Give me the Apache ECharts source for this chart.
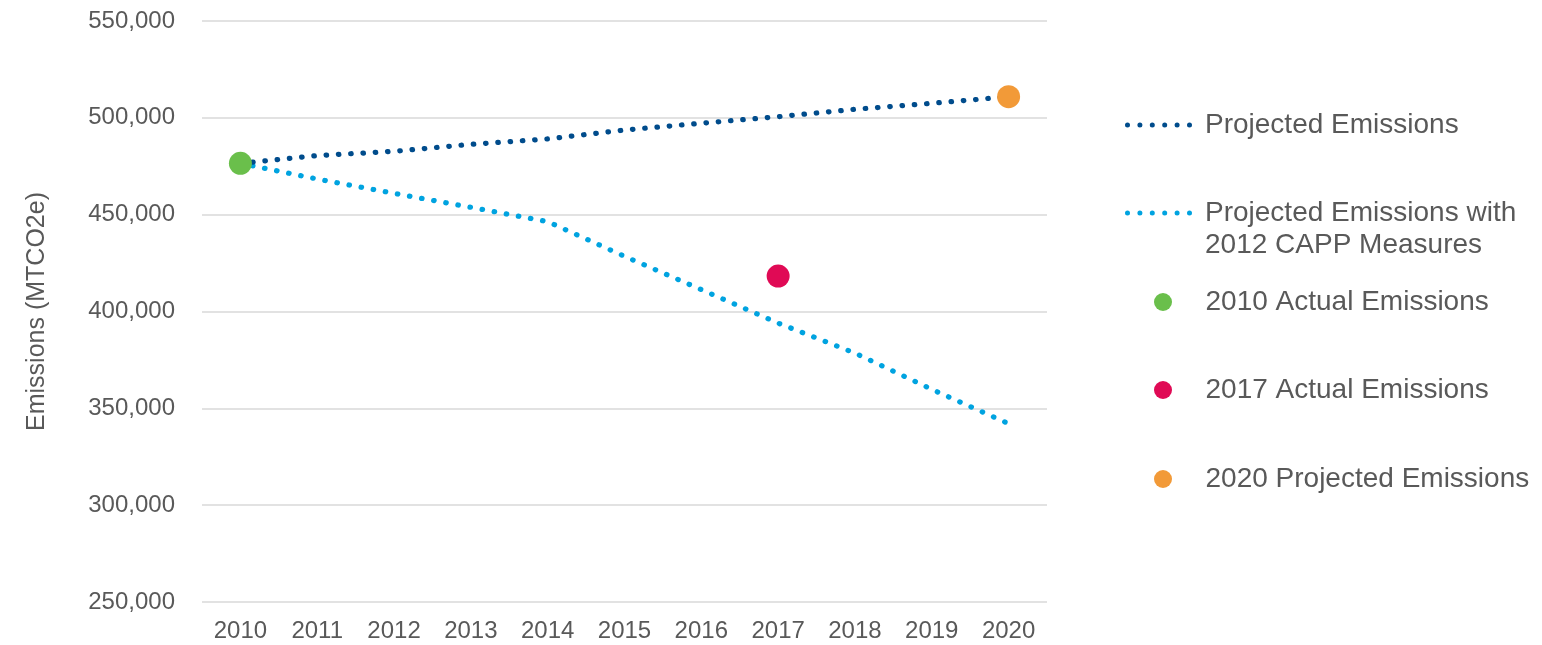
<!DOCTYPE html>
<html lang="en">
<head>
    <meta charset="UTF-8">
    <title>Emissions projections</title>
    <script src="https://cdn.jsdelivr.net/npm/echarts@6.0.0/dist/echarts.min.js"></script>
    <style>
        html, body { margin: 0; padding: 0; background: #fff; }
    </style>
</head>
<body>
    <div id="main" style="width: 1542px;height:645px;"></div>
    <script type="text/javascript">
      // data
      var years = ['2010', '2011', '2012', '2013', '2014', '2015', '2016', '2017', '2018', '2019', '2020'];
      var projected = [476500, 480500, 482700, 486300, 489100, 493700, 497200, 500600, 504400, 507500, 510900];
      var projectedCapp = [476500, 468400, 461000, 453800, 446400, 428500, 411300, 394000, 378500, 359800, 342100];
      var actual2010 = [['2010', 476500]];
      var actual2017 = [['2017', 418300]];
      var projected2020 = [['2020', 510900]];
      var yTicks = [250000, 300000, 350000, 400000, 450000, 500000, 550000];

      var grey = '#595959';
      var font = 'Liberation Sans, Arial, sans-serif';

      // six dots for the line legend icons
      function dotsPath() {
        var p = '';
        for (var i = 0; i < 6; i++) {
          var cx = 2.5 + i * 12.4;
          p += 'M' + (cx - 2.5) + ' 2.5a2.5 2.5 0 1 0 5 0a2.5 2.5 0 1 0 -5 0Z';
        }
        return 'path://' + p;
      }

      var myChart = echarts.init(document.getElementById('main'));

      var dotted = function (color) {
        return { color: color, width: 5.2, type: [0.5, 11.8], cap: 'round' };
      };

      var legendItems = [
        { name: 'Projected Emissions', left: 1125, top: 109, icon: dotsPath(), color: '#004C8C', h: 5, pad: 8 },
        { name: 'Projected Emissions with 2012 CAPP Measures', left: 1125, top: 165, icon: dotsPath(), color: '#00A3E0', h: 5, pad: 8 },
        { name: '2010 Actual Emissions', left: 1154, top: 286, icon: 'circle', color: '#6ABF4B', h: 18, pad: 4 },
        { name: '2017 Actual Emissions', left: 1154, top: 374, icon: 'circle', color: '#E00A55', h: 18, pad: 4 },
        { name: '2020 Projected Emissions', left: 1154, top: 463, icon: 'circle', color: '#F29A38', h: 18, pad: 4 }
      ];

      var option = {
        animation: false,
        textStyle: { fontFamily: font },
        grid: { left: 202, right: 495, top: 21, bottom: 43 },
        legend: legendItems.map(function (it) {
          return {
            left: it.left,
            top: it.top,
            padding: 0,
            itemWidth: 67,
            itemHeight: it.h,
            selectedMode: false,
            data: [{ name: it.name, icon: it.icon, itemStyle: { color: it.color } }],
            // empty first line keeps the icon level with the first text line
            formatter: function (name) {
              return name === 'Projected Emissions with 2012 CAPP Measures'
                ? '\nProjected Emissions with\n2012 CAPP Measures' : name;
            },
            textStyle: {
              color: grey, fontSize: 28, fontFamily: font, lineHeight: 32,
              padding: [0, 0, 0, it.pad]
            }
          };
        }),
        xAxis: {
          type: 'category',
          data: years,
          axisLine: { show: false },
          axisTick: { show: false },
          axisLabel: { color: grey, fontSize: 24, margin: 17 }
        },
        yAxis: {
          type: 'value',
          min: yTicks[0],
          max: yTicks[yTicks.length - 1],
          interval: 50000,
          name: 'Emissions (MTCO2e)',
          nameLocation: 'middle',
          nameRotate: 90,
          nameGap: 152,
          nameTextStyle: { color: grey, fontSize: 25 },
          axisLabel: {
            color: grey, fontSize: 24, margin: 27,
            formatter: function (v) { return v.toLocaleString('en-US'); }
          },
          splitLine: { lineStyle: { color: '#d9d9d9', width: 1.5 } }
        },
        series: [
          {
            name: 'Projected Emissions',
            type: 'line',
            data: projected,
            symbol: 'none',
            color: '#004C8C',
            lineStyle: dotted('#004C8C'),
            z: 2
          },
          {
            name: 'Projected Emissions with 2012 CAPP Measures',
            type: 'line',
            data: projectedCapp,
            symbol: 'none',
            color: '#00A3E0',
            lineStyle: dotted('#00A3E0'),
            z: 1
          },
          {
            name: '2010 Actual Emissions',
            type: 'scatter',
            data: actual2010,
            symbolSize: 23,
            itemStyle: { color: '#6ABF4B', opacity: 1 },
            z: 5
          },
          {
            name: '2017 Actual Emissions',
            type: 'scatter',
            data: actual2017,
            symbolSize: 23,
            itemStyle: { color: '#E00A55', opacity: 1 },
            z: 5
          },
          {
            name: '2020 Projected Emissions',
            type: 'scatter',
            data: projected2020,
            symbolSize: 23,
            itemStyle: { color: '#F29A38', opacity: 1 },
            z: 5
          }
        ]
      };

      myChart.setOption(option);
    </script>
</body>
</html>
